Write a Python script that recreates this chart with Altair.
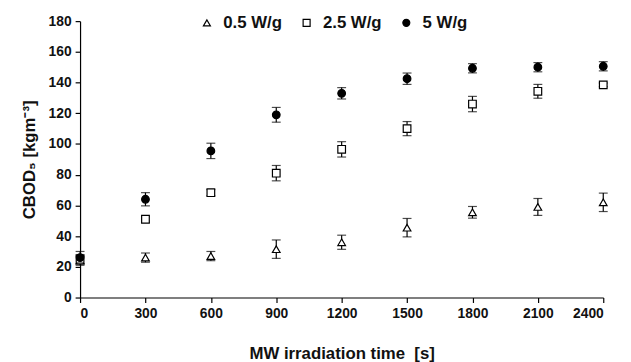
import altair as alt
import pandas as pd

times = [0, 300, 600, 900, 1200, 1500, 1800, 2100, 2400]
series = ["0.5 W/g", "2.5 W/g", "5 W/g"]
val_05 = [24, 26, 27, 31.5, 36, 45.5, 55.5, 59, 62]
err_05 = [3, 3, 3, 6, 4.6, 6, 3.8, 5.5, 6]
val_25 = [25, 51, 68.3, 81, 96.5, 110, 126, 134.3, 138.5]
err_25 = [3, 2, 2, 5, 5, 4.6, 5, 4.5, 1.2]
val_5 = [26, 64, 95.5, 119, 133, 142.5, 149.3, 150, 150.6]
err_5 = [4, 4.3, 5, 4.8, 3.7, 3.7, 3, 3, 3]

rows = []
for s, vals, errs in zip(series, [val_05, val_25, val_5], [err_05, err_25, err_5]):
    for t, v, e in zip(times, vals, errs):
        rows.append({"time": t, "series": s, "value": v, "lo": v - e, "hi": v + e})
df = pd.DataFrame(rows)

FONT = "Liberation Sans"

x = alt.X("time:Q",
          scale=alt.Scale(domain=[0, 2400], nice=False),
          axis=alt.Axis(values=times, format="d", title="MW irradiation time\u00a0\u00a0[s]",
                        titleFontSize=17, titlePadding=26))
y_axis = alt.Axis(values=list(range(0, 181, 20)), title="CBOD₅ [kgm⁻³]",
                  titleFontSize=17, titlePadding=10)

err = alt.Chart(df).mark_errorbar(ticks={"size": 9, "thickness": 1.2, "color": "black"},
                                  color="black", thickness=1.2).encode(
    x=x,
    y=alt.Y("lo:Q", scale=alt.Scale(domain=[0, 180], nice=False), axis=y_axis),
    y2="hi:Q",
)

leg = alt.Legend(title=None, orient="none", direction="horizontal",
                 legendX=120, legendY=-7, labelFontSize=17,
                 labelFontWeight="bold", labelFont=FONT,
                 labelColor="#111", symbolSize=50, columnPadding=16,
                 labelOffset=8, symbolStrokeWidth=1.2)

pts = alt.Chart(df).mark_point(size=60, strokeWidth=1.2, opacity=1).encode(
    x=x,
    y=alt.Y("value:Q", scale=alt.Scale(domain=[0, 180], nice=False), axis=y_axis),
    shape=alt.Shape("series:N", scale=alt.Scale(domain=series,
                                                 range=["triangle-up", "square", "circle"]),
                    legend=leg),
    fill=alt.Fill("series:N", scale=alt.Scale(domain=series,
                                               range=["white", "white", "black"]),
                  legend=leg),
    stroke=alt.Stroke("series:N", scale=alt.Scale(domain=series,
                                                   range=["black", "black", "black"]),
                      legend=leg),
)

chart = (err + pts).properties(
    width=530, height=280,
    padding={"left": 73, "top": 11, "right": 20, "bottom": 63},
    autosize=alt.AutoSizeParams(type="none"),
).configure_view(stroke=None).configure_axis(
    grid=False, domainColor="black", tickColor="black", tickSize=5,
    labelFont=FONT, labelFontSize=14, labelFontWeight="bold", labelColor="#111",
    titleFont=FONT, titleFontWeight="bold", titleColor="#111", labelPadding=4,
    domainWidth=1.2, tickWidth=1.2,
)

chart.save("out.html", embed_options={"renderer": "svg", "actions": False})
